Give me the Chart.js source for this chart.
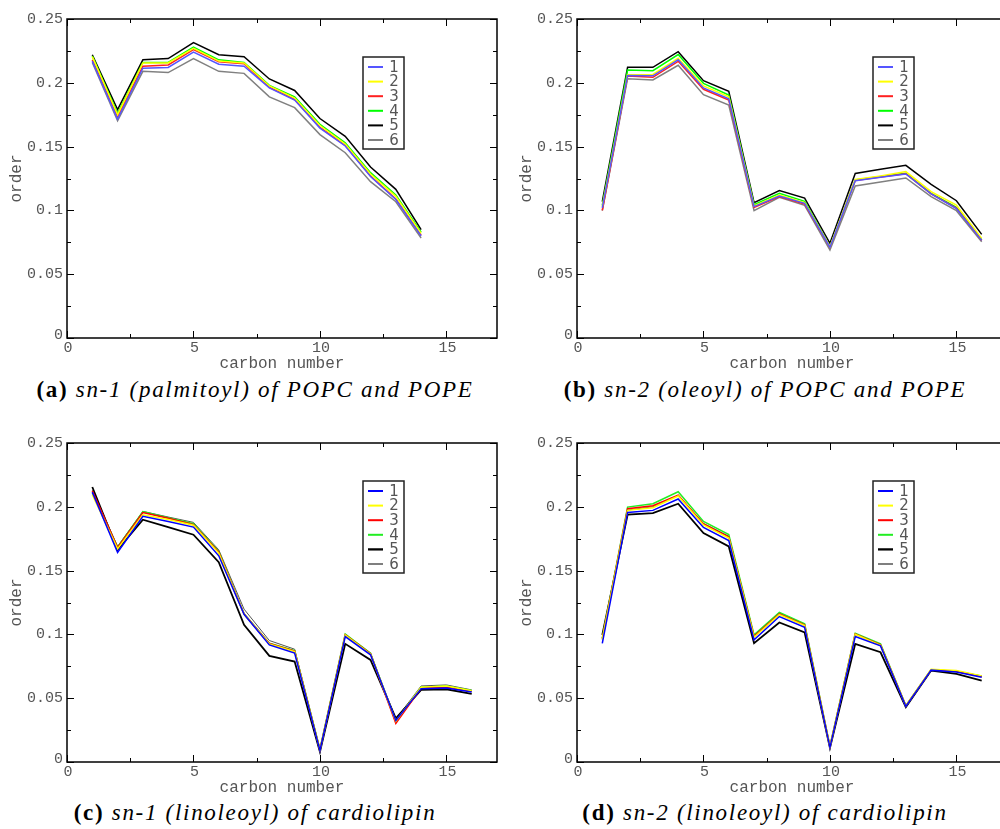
<!DOCTYPE html>
<html>
<head>
<meta charset="utf-8">
<script src="https://cdn.jsdelivr.net/npm/chart.js@4.4.1/dist/chart.umd.min.js"></script>
<style>
    body { margin: 0; width: 1000px; height: 829px; overflow: hidden; position: relative; background: #fff; }
    .panel { position: absolute; width: 510px; height: 372px; }
    .caption { position: absolute; width: 510px; text-align: center; font-family: "Liberation Serif", serif; font-size: 23px; letter-spacing: 1.7px; line-height: 23px; color: #000; white-space: nowrap; }
    .caption b { font-weight: bold; font-style: normal; }
    .caption i { font-style: italic; }
</style>
</head>
<body>
<div class="panel" style="left:0; top:0;"><canvas id="chartA" width="510" height="372"></canvas></div>
<div class="panel" style="left:510px; top:0;"><canvas id="chartB" width="510" height="372"></canvas></div>
<div class="panel" style="left:0; top:424px;"><canvas id="chartC" width="510" height="372"></canvas></div>
<div class="panel" style="left:510px; top:424px;"><canvas id="chartD" width="510" height="372"></canvas></div>
<div class="caption" style="left:0; top:378px;"><b>(a)</b> <i>sn-1 (palmitoyl) of POPC and POPE</i></div>
<div class="caption" style="left:510px; top:378px;"><b>(b)</b> <i>sn-2 (oleoyl) of POPC and POPE</i></div>
<div class="caption" style="left:0; top:801px;"><b>(c)</b> <i>sn-1 (linoleoyl) of cardiolipin</i></div>
<div class="caption" style="left:510px; top:801px;"><b>(d)</b> <i>sn-2 (linoleoyl) of cardiolipin</i></div>
<script>
// ---- data ----
const seriesNames = ['1', '2', '3', '4', '5', '6'];
const xTicks = [0, 5, 10, 15];
const xMinorTicks = [2.5, 7.5, 12.5];
const yTicks = [0, 0.05, 0.1, 0.15, 0.2, 0.25];
const yTickLabels = ['0', '0.05', '0.1', '0.15', '0.2', '0.25'];
const yMinorTicks = [0.025, 0.075, 0.125, 0.175, 0.225];

const carbonsA = [1, 2, 3, 4, 5, 6, 7, 8, 9, 10, 11, 12, 13, 14];
const carbons16 = [1, 2, 3, 4, 5, 6, 7, 8, 9, 10, 11, 12, 13, 14, 15, 16];

// (a) sn-1 palmitoyl
const a1 = [0.217, 0.1716, 0.2115, 0.212, 0.224, 0.2145, 0.213, 0.196, 0.1865, 0.1645, 0.1505, 0.1265, 0.1085, 0.080];
const a2 = [0.2205, 0.175, 0.2155, 0.2155, 0.227, 0.217, 0.2155, 0.1975, 0.188, 0.1665, 0.152, 0.1285, 0.111, 0.082];
const a3 = [0.218, 0.1735, 0.213, 0.214, 0.226, 0.2165, 0.215, 0.1965, 0.187, 0.165, 0.151, 0.127, 0.109, 0.0805];
const a4 = [0.221, 0.176, 0.216, 0.216, 0.228, 0.218, 0.216, 0.198, 0.189, 0.1675, 0.153, 0.1296, 0.112, 0.083];
const a5 = [0.222, 0.179, 0.218, 0.219, 0.2315, 0.222, 0.2205, 0.203, 0.194, 0.172, 0.158, 0.134, 0.1165, 0.085];
const a6 = [0.216, 0.1703, 0.209, 0.208, 0.219, 0.209, 0.2074, 0.189, 0.1805, 0.1594, 0.1452, 0.1225, 0.1068, 0.0784];

// (b) sn-2 oleoyl
const b1 = [0.102, 0.2058, 0.2055, 0.218, 0.196, 0.1875, 0.103, 0.1112, 0.1055, 0.0712, 0.1233, 0.126, 0.1285, 0.113, 0.1015, 0.0765];
const b2 = [0.103, 0.2064, 0.2065, 0.2192, 0.1975, 0.189, 0.1035, 0.112, 0.106, 0.0716, 0.1243, 0.127, 0.1304, 0.1147, 0.1042, 0.0781];
const b3 = [0.100, 0.2053, 0.2043, 0.2168, 0.1949, 0.1865, 0.1024, 0.1108, 0.105, 0.0712, 0.1235, 0.1262, 0.1287, 0.113, 0.1018, 0.0765];
const b4 = [0.104, 0.210, 0.2095, 0.2221, 0.1996, 0.1904, 0.1045, 0.1134, 0.1071, 0.0716, 0.1238, 0.1265, 0.129, 0.1134, 0.1024, 0.077];
const b5 = [0.1068, 0.2121, 0.2121, 0.2244, 0.2017, 0.1933, 0.1061, 0.1155, 0.1097, 0.0742, 0.129, 0.1322, 0.1353, 0.1204, 0.1076, 0.0812];
const b6 = [0.0998, 0.2032, 0.2022, 0.2137, 0.1907, 0.1826, 0.0998, 0.1102, 0.104, 0.069, 0.1191, 0.1222, 0.1254, 0.1108, 0.0998, 0.0755];

// (c) sn-1 linoleoyl
const c1 = [0.2115, 0.1642, 0.1925, 0.1885, 0.1841, 0.1616, 0.1158, 0.0918, 0.0853, 0.009, 0.0983, 0.084, 0.0325, 0.0575, 0.058, 0.0549];
const c2 = [0.2095, 0.167, 0.1938, 0.19, 0.1855, 0.1637, 0.1158, 0.0925, 0.0865, 0.0095, 0.0995, 0.0845, 0.032, 0.0585, 0.0595, 0.0558];
const c3 = [0.2125, 0.168, 0.1955, 0.191, 0.186, 0.1645, 0.116, 0.0928, 0.087, 0.0095, 0.0997, 0.0848, 0.0303, 0.058, 0.0588, 0.0555];
const c4 = [0.211, 0.1684, 0.1962, 0.1915, 0.1867, 0.165, 0.1161, 0.0931, 0.0873, 0.010, 0.1002, 0.0853, 0.0316, 0.0586, 0.0596, 0.056];
const c5 = [0.2155, 0.1663, 0.1899, 0.184, 0.1781, 0.1566, 0.1075, 0.0832, 0.0787, 0.008, 0.0926, 0.080, 0.0343, 0.0565, 0.057, 0.0533];
const c6 = [0.213, 0.169, 0.1964, 0.192, 0.1878, 0.1663, 0.1198, 0.0952, 0.0884, 0.010, 0.1, 0.0853, 0.0335, 0.0596, 0.0604, 0.0565];

// (d) sn-2 linoleoyl
const d1 = [0.093, 0.1956, 0.1972, 0.2061, 0.1838, 0.1736, 0.0957, 0.114, 0.1056, 0.0115, 0.0983, 0.091, 0.0436, 0.072, 0.0705, 0.0664];
const d2 = [0.096, 0.1972, 0.1993, 0.2085, 0.1858, 0.1755, 0.0978, 0.1155, 0.107, 0.012, 0.1000, 0.0915, 0.0440, 0.0727, 0.0717, 0.0675];
const d3 = [0.0965, 0.1985, 0.2008, 0.2092, 0.1865, 0.1763, 0.0985, 0.1161, 0.1073, 0.012, 0.1003, 0.0918, 0.0440, 0.0722, 0.0712, 0.067];
const d4 = [0.097, 0.1998, 0.2024, 0.2118, 0.1885, 0.1783, 0.0996, 0.1172, 0.1083, 0.0125, 0.1009, 0.0926, 0.0442, 0.0722, 0.0709, 0.0675];
const d5 = [0.0996, 0.1938, 0.1951, 0.2024, 0.1794, 0.1689, 0.0931, 0.1093, 0.1015, 0.011, 0.0926, 0.086, 0.0429, 0.0717, 0.069, 0.0638];
const d6 = [0.096, 0.1975, 0.200, 0.209, 0.187, 0.177, 0.099, 0.117, 0.108, 0.0115, 0.1005, 0.092, 0.0438, 0.0722, 0.0712, 0.0668];

const colorsTop = ['#5555ff', '#ffff00', '#ff2020', '#00ff00', '#000000', '#808080'];
const colorsBottom = ['#0000ff', '#ffff00', '#ff0000', '#22ee22', '#000000', '#555555'];
const widthsBottom = [1.5, 1.5, 1.5, 1.5, 1.8, 1.0];

// rahmen, ticks nach innen, achsenbeschriftung und legende
const framePlugin = {
    id: 'frame',
    afterDatasetsDraw(chart) {
        const ctx = chart.ctx;
        const a = chart.chartArea;
        const xs = chart.scales.x, ys = chart.scales.y;
        ctx.save();
        ctx.strokeStyle = '#000';
        ctx.lineWidth = 1.5;
        ctx.strokeRect(a.left, a.top, a.right - a.left, a.bottom - a.top);

        ctx.lineWidth = 1;
        ctx.beginPath();
        const tick = (vals, len, horiz) => vals.forEach(v => {
            if (horiz) {
                const px = Math.round(xs.getPixelForValue(v)) + 0.5;
                ctx.moveTo(px, a.bottom); ctx.lineTo(px, a.bottom - len);
                ctx.moveTo(px, a.top); ctx.lineTo(px, a.top + len);
            } else {
                const py = Math.round(ys.getPixelForValue(v)) + 0.5;
                ctx.moveTo(a.left, py); ctx.lineTo(a.left + len, py);
                ctx.moveTo(a.right, py); ctx.lineTo(a.right - len, py);
            }
        });
        tick(xTicks, 7, true);
        tick(xMinorTicks, 4, true);
        tick(yTicks, 7, false);
        tick(yMinorTicks, 4, false);
        ctx.stroke();

        ctx.fillStyle = '#555';
        ctx.font = '15px "Liberation Mono", monospace';
        ctx.textAlign = 'right';
        ctx.textBaseline = 'middle';
        yTicks.forEach((v, i) => ctx.fillText(yTickLabels[i], a.left - 4, ys.getPixelForValue(v) - (v === 0 ? 3 : 0)));
        ctx.textAlign = 'center';
        ctx.textBaseline = 'top';
        xTicks.forEach(v => ctx.fillText(String(v), xs.getPixelForValue(v) + 1, a.bottom + 3));

        ctx.font = '16px "Liberation Mono", monospace';
        ctx.textBaseline = 'alphabetic';
        ctx.fillText('carbon number', (a.left + a.right) / 2, a.bottom + 30);
        ctx.save();
        ctx.translate(21, (a.top + a.bottom) / 2);
        ctx.rotate(-Math.PI / 2);
        ctx.fillText('order', 0, 0);
        ctx.restore();

        // legende
        const lx = a.left + 296, ly = a.top + 38;
        ctx.lineWidth = 1.5;
        ctx.strokeStyle = '#222';
        ctx.strokeRect(lx, ly, 41, 92);
        ctx.font = '15px "DejaVu Sans", sans-serif';
        ctx.textBaseline = 'middle';
        chart.data.datasets.forEach((ds, i) => {
            const yy = ly + 10 + i * 14.6;
            ctx.strokeStyle = ds.borderColor;
            ctx.lineWidth = ds.borderWidth + 0.5;
            ctx.beginPath();
            ctx.moveTo(lx + 5, yy); ctx.lineTo(lx + 20, yy);
            ctx.stroke();
            ctx.fillStyle = '#555';
            ctx.fillText(ds.label, lx + 31, yy + 1);
        });
        ctx.restore();
    }
};

function makeChart(id, xs, series, colors, widths) {
    new Chart(document.getElementById(id), {
        type: 'line',
        data: {
            datasets: series.map((vals, i) => ({
                label: seriesNames[i],
                data: vals.map((v, k) => ({ x: xs[k], y: v })),
                borderColor: colors[i],
                borderWidth: widths ? widths[i] : 1.5,
                pointRadius: 0,
                tension: 0,
                fill: false
            }))
        },
        options: {
            responsive: false,
            animation: false,
            layout: { padding: { left: 67, top: 19, right: 13, bottom: 34 } },
            scales: {
                x: { type: 'linear', min: 0, max: 17, display: false },
                y: { min: 0, max: 0.25, display: false }
            },
            plugins: { legend: { display: false }, tooltip: { enabled: false } }
        },
        plugins: [framePlugin]
    });
}

makeChart('chartA', carbonsA, [a1, a2, a3, a4, a5, a6], colorsTop);
makeChart('chartB', carbons16, [b1, b2, b3, b4, b5, b6], colorsTop);
makeChart('chartC', carbons16, [c1, c2, c3, c4, c5, c6], colorsBottom, widthsBottom);
makeChart('chartD', carbons16, [d1, d2, d3, d4, d5, d6], colorsBottom, widthsBottom);
</script>
</body>
</html>
